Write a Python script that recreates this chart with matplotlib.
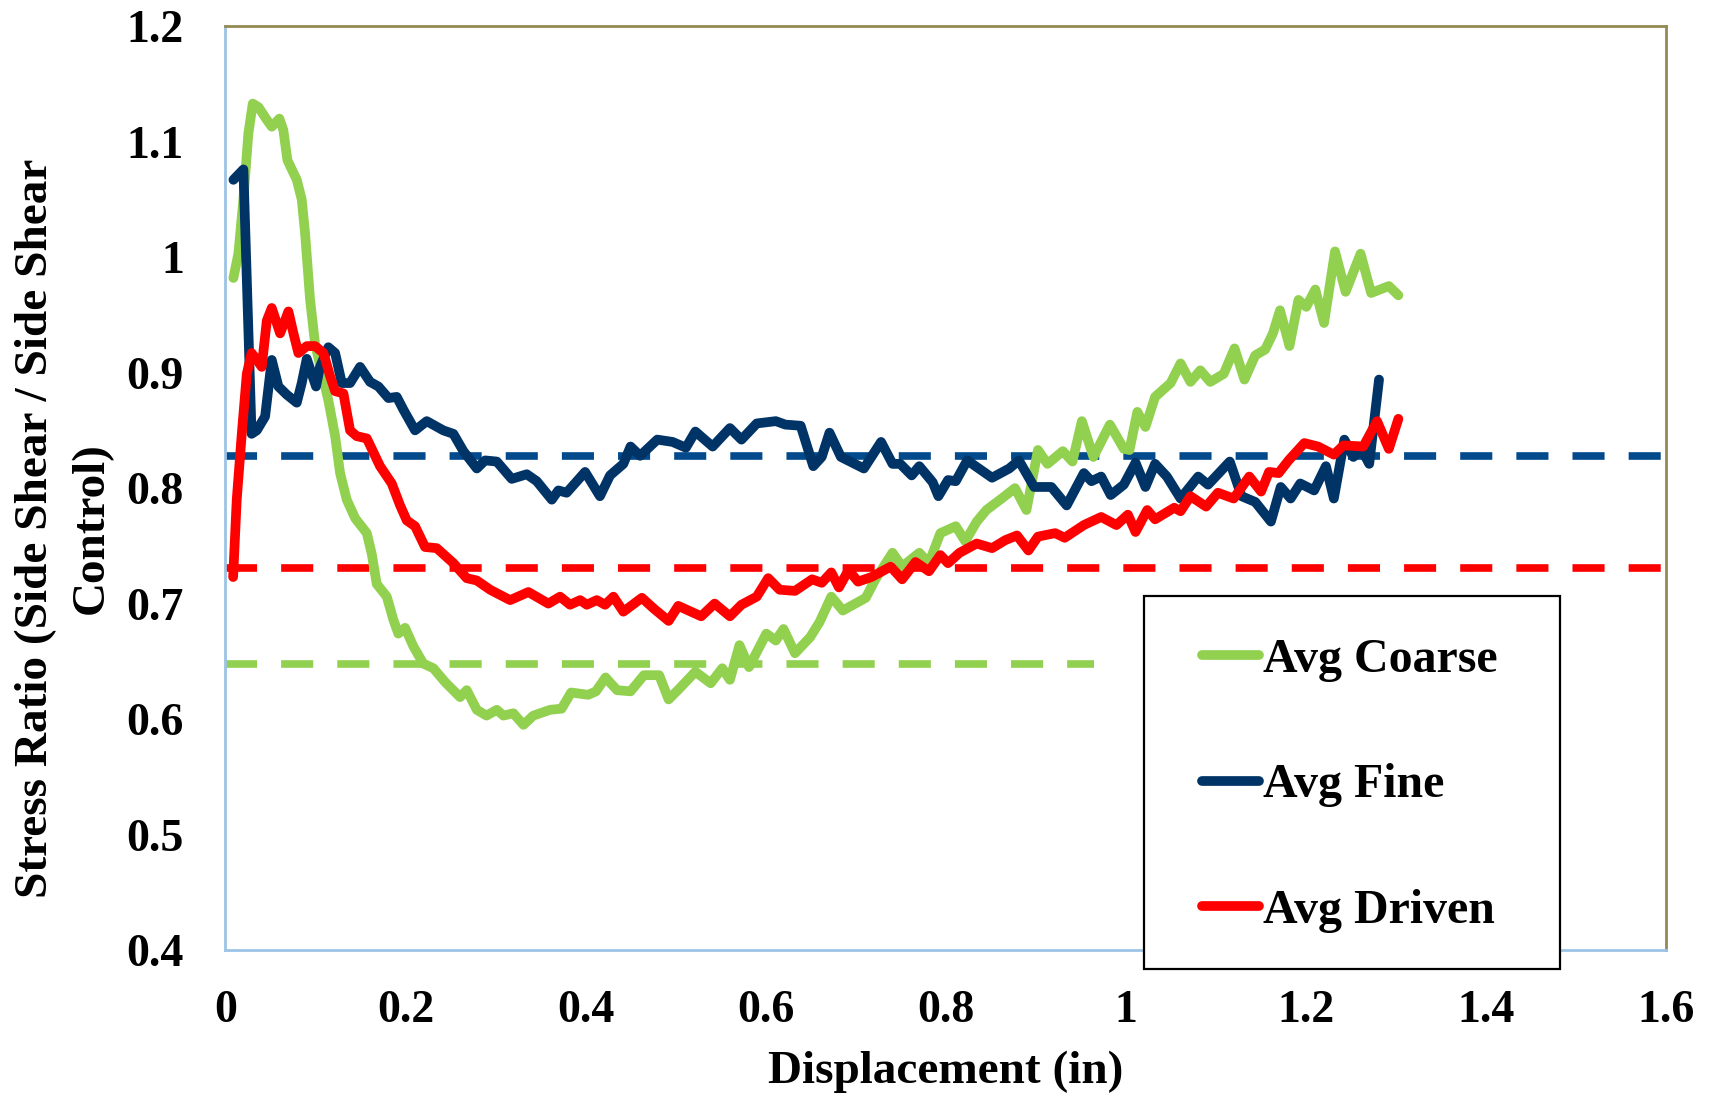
import numpy as np
import matplotlib
matplotlib.use("Agg")
import matplotlib.pyplot as plt
from matplotlib.patches import Rectangle
from matplotlib.ticker import FuncFormatter

plt.rcParams['font.family'] = ['Liberation Serif', 'DejaVu Serif']
plt.rcParams['font.weight'] = 'bold'

# --- data ---
coarse_x = [0.0088, 0.0143, 0.0199, 0.0254, 0.0303, 0.0366, 0.0459, 0.0514, 0.0599, 0.0643,
            0.0688, 0.0792, 0.0847, 0.0884, 0.094, 0.0995, 0.107, 0.1143, 0.1218, 0.1273,
            0.1347, 0.144, 0.157, 0.1625, 0.168, 0.1792, 0.1865, 0.192, 0.1995, 0.2087,
            0.2198, 0.231, 0.244, 0.2606, 0.268, 0.2792, 0.290, 0.3014, 0.3087, 0.3198,
            0.331, 0.342, 0.3606, 0.3734, 0.384, 0.403, 0.4116, 0.4222, 0.435, 0.450,
            0.4648, 0.4818, 0.4923, 0.505, 0.522, 0.539, 0.5519, 0.5604, 0.571, 0.5816,
            0.6008, 0.6114, 0.6199, 0.6327, 0.6496, 0.660, 0.673, 0.6858, 0.7113, 0.722,
            0.741, 0.7517, 0.7708, 0.7815, 0.7942, 0.8113, 0.8218, 0.8346, 0.8453, 0.8623,
            0.8771, 0.8898, 0.9026, 0.9132, 0.9302, 0.9409, 0.9514, 0.9642, 0.9825, 0.998,
            1.0043, 1.013, 1.022, 1.0327, 1.050, 1.061, 1.072, 1.083, 1.094, 1.109,
            1.121, 1.132, 1.144, 1.155, 1.1636, 1.1715, 1.182, 1.192, 1.2007, 1.2107,
            1.2204, 1.2326, 1.2444, 1.261, 1.2727, 1.2924, 1.303]
coarse_y = [0.982, 1.003, 1.050, 1.107, 1.133, 1.130, 1.119, 1.113, 1.120, 1.110,
            1.084, 1.067, 1.050, 1.021, 0.963, 0.925, 0.900, 0.876, 0.845, 0.813,
            0.790, 0.774, 0.761, 0.743, 0.717, 0.706, 0.686, 0.674, 0.679, 0.663,
            0.648, 0.644, 0.632, 0.619, 0.625, 0.608, 0.603, 0.608, 0.603, 0.605,
            0.595, 0.603, 0.608, 0.609, 0.623, 0.621, 0.624, 0.636, 0.625, 0.624,
            0.638, 0.638, 0.617, 0.627, 0.641, 0.631, 0.644, 0.634, 0.664, 0.645,
            0.674, 0.668, 0.678, 0.657, 0.671, 0.684, 0.706, 0.694, 0.705, 0.721,
            0.744, 0.732, 0.744, 0.735, 0.761, 0.767, 0.754, 0.771, 0.781, 0.791,
            0.800, 0.781, 0.833, 0.821, 0.832, 0.823, 0.858, 0.827, 0.855, 0.834,
            0.833, 0.866, 0.853, 0.879, 0.891, 0.908, 0.892, 0.902, 0.892, 0.899,
            0.921, 0.894, 0.915, 0.920, 0.934, 0.954, 0.923, 0.963, 0.957, 0.972,
            0.943, 1.005, 0.970, 1.003, 0.969, 0.975, 0.967]

fine_x = [0.0088, 0.0199, 0.029, 0.0348, 0.044, 0.0514, 0.0588, 0.068, 0.0792, 0.0847,
          0.0903, 0.1006, 0.105, 0.1143, 0.1218, 0.1292, 0.1384, 0.1495, 0.1606, 0.1699,
          0.181, 0.1903, 0.1976, 0.2106, 0.2236, 0.242, 0.2532, 0.2643, 0.2792, 0.2884,
          0.3014, 0.318, 0.3347, 0.3458, 0.3625, 0.3698, 0.379, 0.3995, 0.416, 0.4272,
          0.442, 0.450, 0.4606, 0.4797, 0.4967, 0.5115, 0.522, 0.5412, 0.5604, 0.5732,
          0.5902, 0.6114, 0.622, 0.639, 0.653, 0.6624, 0.671, 0.6837, 0.7092, 0.7283,
          0.741, 0.7496, 0.7623, 0.7708, 0.7857, 0.792, 0.8027, 0.8113, 0.824, 0.8516,
          0.8707, 0.8814, 0.8984, 0.9175, 0.9345, 0.9536, 0.962, 0.9728, 0.9834, 0.998,
          1.011, 1.022, 1.0327, 1.0458, 1.061, 1.0806, 1.0916, 1.1157, 1.1288, 1.144,
          1.1614, 1.1723, 1.1833, 1.194, 1.2094, 1.2225, 1.2313, 1.243, 1.253, 1.2618,
          1.2706, 1.2815]
fine_y = [1.067, 1.076, 0.847, 0.850, 0.862, 0.911, 0.888, 0.881, 0.874, 0.891,
          0.912, 0.888, 0.905, 0.922, 0.917, 0.891, 0.891, 0.905, 0.892, 0.888,
          0.878, 0.879, 0.868, 0.850, 0.858, 0.850, 0.847, 0.832, 0.817, 0.824,
          0.823, 0.808, 0.812, 0.806, 0.790, 0.798, 0.796, 0.814, 0.793, 0.811,
          0.821, 0.836, 0.828, 0.842, 0.840, 0.835, 0.849, 0.836, 0.852, 0.842,
          0.856, 0.858, 0.855, 0.854, 0.819, 0.827, 0.848, 0.827, 0.817, 0.840,
          0.821, 0.821, 0.811, 0.819, 0.805, 0.793, 0.807, 0.806, 0.824, 0.809,
          0.817, 0.824, 0.801, 0.801, 0.785, 0.813, 0.806, 0.810, 0.794, 0.803,
          0.822, 0.801, 0.821, 0.810, 0.791, 0.810, 0.803, 0.823, 0.793, 0.788,
          0.771, 0.801, 0.791, 0.804, 0.798, 0.819, 0.791, 0.842, 0.827, 0.834,
          0.821, 0.894]

driven_x = [0.0085, 0.0125, 0.0181, 0.0237, 0.029, 0.0348, 0.0403, 0.0459, 0.0514, 0.0607,
            0.0699, 0.0755, 0.081, 0.0903, 0.0995, 0.1088, 0.1162, 0.1218, 0.131, 0.1384,
            0.1458, 0.157, 0.1717, 0.1847, 0.194, 0.2014, 0.2106, 0.2217, 0.2347, 0.2532,
            0.268, 0.2792, 0.294, 0.3162, 0.3365, 0.3587, 0.3717, 0.3828, 0.394, 0.4014,
            0.4125, 0.4217, 0.431, 0.442, 0.4626, 0.4753, 0.4923, 0.503, 0.5285, 0.5434,
            0.5604, 0.5732, 0.5902, 0.6029, 0.6156, 0.6327, 0.6517, 0.6624, 0.673, 0.6815,
            0.6922, 0.7027, 0.7177, 0.739, 0.7517, 0.7666, 0.7815, 0.7942, 0.8027, 0.8155,
            0.8346, 0.8516, 0.8665, 0.8793, 0.892, 0.9026, 0.9217, 0.9323, 0.9536, 0.9728,
            0.9898, 1.0025, 1.011, 1.024, 1.0327, 1.054, 1.061, 1.072, 1.0894, 1.1025,
            1.12, 1.1374, 1.1505, 1.1593, 1.170, 1.181, 1.1985, 1.2138, 1.2313, 1.242,
            1.264, 1.2793, 1.2924, 1.303]
driven_y = [0.723, 0.790, 0.847, 0.899, 0.917, 0.911, 0.905, 0.945, 0.956, 0.934,
            0.953, 0.934, 0.917, 0.923, 0.923, 0.917, 0.897, 0.884, 0.882, 0.850,
            0.845, 0.843, 0.819, 0.804, 0.785, 0.772, 0.767, 0.749, 0.748, 0.735,
            0.722, 0.720, 0.712, 0.703, 0.710, 0.700, 0.706, 0.699, 0.703, 0.699,
            0.703, 0.699, 0.706, 0.693, 0.705, 0.696, 0.685, 0.698, 0.689, 0.700,
            0.689, 0.699, 0.706, 0.722, 0.712, 0.711, 0.721, 0.718, 0.727, 0.714,
            0.729, 0.719, 0.723, 0.732, 0.721, 0.736, 0.728, 0.742, 0.735, 0.744,
            0.752, 0.748, 0.755, 0.759, 0.746, 0.758, 0.761, 0.757, 0.768, 0.775,
            0.768, 0.777, 0.762, 0.781, 0.773, 0.783, 0.780, 0.793, 0.784, 0.796,
            0.791, 0.810, 0.797, 0.814, 0.813, 0.824, 0.839, 0.836, 0.829, 0.837,
            0.836, 0.858, 0.834, 0.860]

# average reference levels (dashed)
fine_avg = 0.828
driven_avg = 0.731
coarse_avg = 0.648
coarse_avg_end = 0.965

green = '#92D050'
navy = '#003366'
red = '#FF0000'
dash_blue = '#024A8C'

fig = plt.figure(figsize=(17.16, 10.98), dpi=100)
ax = fig.add_axes([0.1314, 0.1348, 0.8393, 0.8413])

dash = (0, (4.2, 3.15))
ax.plot([0, 1.6], [fine_avg, fine_avg], color=dash_blue, lw=5.5, ls=dash, dash_capstyle='butt')
ax.plot([0, 1.6], [driven_avg, driven_avg], color=red, lw=5.5, ls=dash, dash_capstyle='butt')
ax.plot([0, coarse_avg_end], [coarse_avg, coarse_avg], color=green, lw=5.5, ls=dash, dash_capstyle='butt')

lw = 7.0
ax.plot(coarse_x, coarse_y, color=green, lw=lw, solid_capstyle='round', solid_joinstyle='round', label='Avg Coarse')
ax.plot(fine_x, fine_y, color=navy, lw=lw, solid_capstyle='round', solid_joinstyle='round', label='Avg Fine')
ax.plot(driven_x, driven_y, color=red, lw=lw, solid_capstyle='round', solid_joinstyle='round', label='Avg Driven')

ax.set_xlim(0, 1.6)
ax.set_ylim(0.4, 1.2)
ax.set_xticks(np.arange(0, 1.61, 0.2))
ax.set_yticks(np.arange(0.4, 1.21, 0.1))
fmt = FuncFormatter(lambda v, p: f"{round(v, 2):g}")
ax.xaxis.set_major_formatter(fmt)
ax.yaxis.set_major_formatter(fmt)
ax.tick_params(length=0, labelsize=33)
ax.tick_params(axis='x', pad=29)
ax.tick_params(axis='y', pad=30)
for lab in ax.get_xticklabels() + ax.get_yticklabels():
    lab.set_fontweight('bold')

for s in ['left', 'bottom']:
    ax.spines[s].set_color('#9DC3E6')
    ax.spines[s].set_linewidth(2)
for s in ['top', 'right']:
    ax.spines[s].set_color('#948A54')
    ax.spines[s].set_linewidth(2)

fig.text(0.551, 0.024, 'Displacement (in)', ha='center', va='center', fontsize=34, fontweight='bold')
fig.text(0.0373, 0.519, 'Stress Ratio (Side Shear / Side Shear\nControl)', ha='center', va='center',
         rotation=90, fontsize=34, fontweight='bold', multialignment='center', linespacing=1.4)

# legend box
box = Rectangle((1143.7 / 1716, 1 - 968.6 / 1098), (1559.5 - 1143.7) / 1716, (968.6 - 596.5) / 1098,
                transform=fig.transFigure, facecolor='white', edgecolor='black', lw=1.6,
                clip_on=False, zorder=4.9)
ax.add_patch(box)
leg = ax.legend(loc='upper left', bbox_to_anchor=(1201.7 / 1716, 1 - 638 / 1098),
                bbox_transform=fig.transFigure, frameon=False,
                handlelength=1.2, handletextpad=0.07, labelspacing=1.7, borderpad=0, borderaxespad=0,
                prop={'weight': 'bold', 'size': 34.5})
leg.set_zorder(5)

fig.savefig('out.png', dpi=100)
